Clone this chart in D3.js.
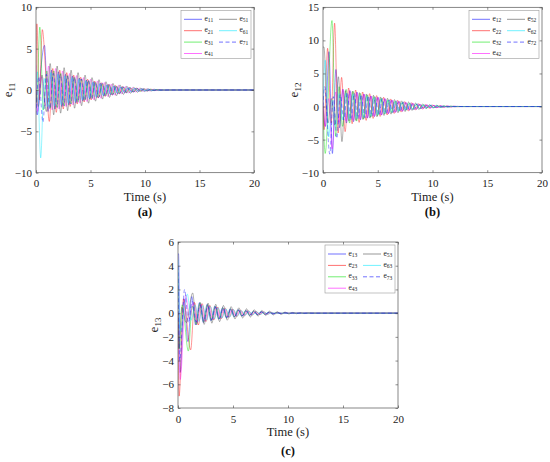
<!DOCTYPE html>
<html>
<head>
<meta charset="utf-8">
<script src="https://cdn.jsdelivr.net/npm/d3@7"></script>
<style>
  body { margin: 0; background: #fff; }
  svg { display: block; }
</style>
</head>
<body>
<div id="chart"></div>
<script>
// #region Data
// each series: a few early points [t, v], then ripple extrema read every half period from `start`
const xTicks = [0, 5, 10, 15, 20];
const yTicksA = [-10, -5, 0, 5, 10];
const yTicksB = [-10, -5, 0, 5, 10, 15];
const yTicksC = [-8, -6, -4, -2, 0, 2, 4, 6];
const subsA = ["11", "21", "31", "41", "51", "61", "71"];
const subsB = ["12", "22", "32", "42", "52", "62", "72"];
const subsC = ["13", "23", "33", "43", "53", "63", "73"];
const halfA = 0.32, halfB = 0.32, halfC = 0.35;

// panel (a)
const headA = [
  [[0, 0], [0.12, -3.0], [0.45, 2.6], [0.78, 5.4]],
  [[0, 0], [0.08, 8.0], [0.3, -1.2], [0.58, 7.3], [0.9, 2.0]],
  [[0, 0], [0.06, -1.5], [0.35, 7.6], [0.68, -2.4], [1.0, 2.3]],
  [[0, 3.0], [0.15, -2.6], [0.5, 1.6], [0.85, -1.9]],
  [[0, 0], [0.2, -2.0], [0.55, 1.8], [0.95, -2.6]],
  [[0, 0], [0.12, 2.2], [0.43, -8.2], [0.75, 1.4]],
  [[0, -3.0], [0.25, 1.6], [0.64, -3.9], [0.95, 1.9]]
];
const startA = [1.1, 1.22, 1.32, 1.16, 1.3, 1.05, 1.27];
const tailA = [
  [-2.6, 2.4, -2.3, 2.2, -2.0, 1.9, -1.8, 1.7, -1.55, 1.45, -1.3, 1.2, -1.1, 1.0, -0.9, 0.82, -0.72, 0.65, -0.58, 0.5, -0.44, 0.38, -0.33, 0.28, -0.24, 0.2, -0.17, 0.14, -0.11, 0.09, -0.07, 0.05, -0.03],
  [-3.8, 2.6, -2.7, 2.4, -2.3, 2.1, -2.0, 1.8, -1.7, 1.55, -1.45, 1.3, -1.2, 1.08, -0.98, 0.88, -0.78, 0.7, -0.62, 0.54, -0.47, 0.41, -0.35, 0.3, -0.26, 0.22, -0.18, 0.15, -0.12, 0.1, -0.08, 0.06, -0.04],
  [-2.2, 2.3, -2.1, 2.0, -1.9, 1.75, -1.65, 1.5, -1.4, 1.3, -1.2, 1.1, -1.0, 0.9, -0.82, 0.74, -0.66, 0.58, -0.52, 0.45, -0.4, 0.34, -0.3, 0.25, -0.21, 0.18, -0.15, 0.12, -0.1, 0.08, -0.06, 0.04, -0.03],
  [2.9, -2.4, 2.6, -2.3, 2.3, -2.0, 2.0, -1.8, 1.75, -1.6, 1.5, -1.4, 1.3, -1.2, 1.1, -1.0, 0.9, -0.8, 0.72, -0.64, 0.56, -0.48, 0.42, -0.36, 0.3, -0.25, 0.21, -0.17, 0.14, -0.11, 0.09, -0.07, 0.05, -0.03],
  [3.2, -3.0, 2.9, -2.8, 2.7, -2.5, 2.4, -2.2, 2.1, -1.9, 1.8, -1.6, 1.5, -1.35, 1.25, -1.1, 1.0, -0.9, 0.8, -0.7, 0.62, -0.54, 0.46, -0.4, 0.34, -0.28, 0.23, -0.19, 0.15, -0.12, 0.09, -0.07, 0.05, -0.03],
  [-2.0, 2.1, -1.9, 1.9, -1.8, 1.7, -1.6, 1.5, -1.4, 1.3, -1.2, 1.1, -1.0, 0.92, -0.84, 0.76, -0.68, 0.6, -0.53, 0.46, -0.4, 0.35, -0.3, 0.26, -0.22, 0.18, -0.15, 0.12, -0.1, 0.08, -0.06, 0.04, -0.03],
  [-2.3, 2.0, -2.1, 1.9, -1.9, 1.7, -1.7, 1.55, -1.5, 1.35, -1.3, 1.2, -1.1, 1.0, -0.92, 0.84, -0.75, 0.67, -0.6, 0.52, -0.45, 0.4, -0.34, 0.29, -0.25, 0.21, -0.17, 0.14, -0.11, 0.09, -0.07, 0.05, -0.03]
];

// panel (b)
const headB = [
  [[0, 0]],
  [[0, 0]],
  [[0, 0], [0.2, -7.1], [0.82, 13.0]],
  [[0, 2.0]],
  [[0, 9.0], [0.08, 9.0]],
  [[0, 0]],
  [[0, 0], [0.15, 3.0]]
];
const startB = [0.22, 0.1, 1.15, 0.2, 0.45, 0.2, 0.62];
const tailB = [
  [-3.0, 8.3, -7.1, 5.6, -3.2, 2.6, -2.5, 2.4, -2.3, 2.2, -2.0, 1.9, -1.75, 1.6, -1.5, 1.4, -1.28, 1.18, -1.06, 0.96, -0.86, 0.77, -0.68, 0.6, -0.52, 0.45, -0.39, 0.33, -0.28, 0.24, -0.2, 0.16, -0.13, 0.1, -0.08, 0.06, -0.04, 0.03],
  [-3.5, 8.8, -2.5, 12.6, -4.0, 4.4, -3.8, 2.8, -2.6, 2.5, -2.4, 2.2, -2.1, 1.95, -1.8, 1.65, -1.5, 1.4, -1.28, 1.15, -1.05, 0.94, -0.84, 0.75, -0.66, 0.58, -0.5, 0.43, -0.37, 0.31, -0.26, 0.22, -0.18, 0.14, -0.11, 0.09, -0.07, 0.05, -0.03],
  [-4.5, 3.0, -3.0, 2.6, -2.5, 2.3, -2.2, 2.0, -1.9, 1.75, -1.6, 1.5, -1.38, 1.25, -1.13, 1.02, -0.92, 0.82, -0.73, 0.64, -0.56, 0.49, -0.42, 0.36, -0.31, 0.26, -0.22, 0.18, -0.15, 0.12, -0.09, 0.07, -0.05, 0.03],
  [-3.0, 1.2, -6.4, 2.2, -2.4, 2.6, -2.2, 2.4, -2.1, 2.1, -1.9, 1.9, -1.7, 1.6, -1.5, 1.4, -1.3, 1.2, -1.1, 1.0, -0.9, 0.8, -0.72, 0.64, -0.56, 0.49, -0.42, 0.36, -0.31, 0.26, -0.22, 0.18, -0.15, 0.12, -0.09, 0.07, -0.05, 0.03],
  [-2.5, 1.2, -2.8, 4.5, -5.3, 2.4, -2.2, 2.3, -2.1, 2.1, -1.95, 1.9, -1.75, 1.7, -1.55, 1.45, -1.35, 1.25, -1.15, 1.05, -0.95, 0.86, -0.77, 0.68, -0.6, 0.52, -0.45, 0.39, -0.33, 0.28, -0.23, 0.19, -0.15, 0.12, -0.09, 0.07, -0.05, 0.03],
  [7.0, -4.6, 1.0, -3.0, 2.0, -2.0, 2.0, -1.9, 1.9, -1.8, 1.7, -1.6, 1.55, -1.45, 1.35, -1.25, 1.15, -1.05, 0.96, -0.87, 0.78, -0.7, 0.62, -0.55, 0.48, -0.42, 0.36, -0.31, 0.26, -0.22, 0.18, -0.15, 0.12, -0.09, 0.07, -0.05, 0.03],
  [-7.2, 1.5, -4.8, 1.8, -2.0, 2.1, -2.0, 2.0, -1.85, 1.8, -1.7, 1.6, -1.5, 1.4, -1.3, 1.2, -1.1, 1.0, -0.92, 0.84, -0.75, 0.67, -0.6, 0.52, -0.45, 0.39, -0.33, 0.28, -0.24, 0.2, -0.16, 0.13, -0.1, 0.08, -0.06, 0.04, -0.03]
];

// panel (c)
const headC = [
  [[0, 5.0], [0.05, 5.0]],
  [[0, 0], [0.1, -7.0], [0.5, 1.2]],
  [[0, 0], [0.12, -3.0], [0.38, 0.7]],
  [[0, 0], [0.2, -5.6]],
  [[0, 3.0], [0.07, -3.0], [0.35, 0.5], [0.75, -0.8]],
  [[0, 4.5], [0.2, -1.5]],
  [[0, 4.0], [0.15, -4.0]]
];
const startC = [0.2, 1.15, 0.94, 0.7, 1.33, 0.85, 0.6];
const tailC = [
  [-5.0, 1.2, -2.4, 1.4, -1.0, 0.9, -0.8, 0.75, -0.65, 0.6, -0.52, 0.48, -0.42, 0.38, -0.33, 0.3, -0.26, 0.23, -0.2, 0.17, -0.15, 0.13, -0.11, 0.09, -0.08, 0.06, -0.05, 0.04, -0.03, 0.02],
  [-3.1, 0.9, -1.0, 0.8, -0.7, 0.65, -0.58, 0.52, -0.46, 0.41, -0.36, 0.32, -0.28, 0.25, -0.22, 0.19, -0.16, 0.14, -0.12, 0.1, -0.08, 0.07, -0.05, 0.04, -0.03, 0.02],
  [-3.2, 0.6, -0.9, 0.85, -0.75, 0.7, -0.6, 0.55, -0.5, 0.44, -0.39, 0.35, -0.3, 0.27, -0.24, 0.21, -0.18, 0.15, -0.13, 0.11, -0.09, 0.08, -0.06, 0.05, -0.04, 0.03, -0.02],
  [1.5, -0.5, 0.9, -0.8, 0.75, -0.7, 0.62, -0.56, 0.5, -0.45, 0.4, -0.35, 0.31, -0.27, 0.24, -0.21, 0.18, -0.15, 0.13, -0.11, 0.09, -0.08, 0.06, -0.05, 0.04, -0.03, 0.02],
  [1.7, -1.0, 0.9, -0.95, 0.85, -0.85, 0.75, -0.72, 0.65, -0.6, 0.55, -0.5, 0.45, -0.41, 0.37, -0.33, 0.29, -0.26, 0.23, -0.2, 0.17, -0.15, 0.13, -0.11, 0.09, -0.07, 0.06, -0.05, 0.04, -0.03, 0.02],
  [1.6, -0.6, 0.7, -0.7, 0.65, -0.6, 0.55, -0.5, 0.46, -0.42, 0.37, -0.33, 0.3, -0.26, 0.23, -0.2, 0.18, -0.15, 0.13, -0.11, 0.09, -0.08, 0.06, -0.05, 0.04, -0.03, 0.02],
  [2.0, -0.8, 1.0, -0.75, 0.7, -0.65, 0.6, -0.55, 0.5, -0.45, 0.4, -0.36, 0.32, -0.28, 0.25, -0.22, 0.19, -0.16, 0.14, -0.12, 0.1, -0.08, 0.07, -0.05, 0.04, -0.03, 0.02]
];
// #endregion

// #region Styles & layout
const colors = ["#0000ff", "#ff0000", "#00e000", "#ff00ff", "#444444", "#00e8ff", "#0000ff"];
const dashes = [null, null, null, null, null, null, "4,2.5"];
const serif = "'Liberation Serif', Tinos, 'Times New Roman', Times, 'DejaVu Serif', serif";

const panels = [
  { tag: "(a)", left: 36, right: 254, top: 7.3, bottom: 172.7, yDomain: [-10, 10], yTicks: yTicksA,
    subs: subsA, head: headA, start: startA, tail: tailA, half: halfA, ylabX: 12, tickY: 187, timeY: 201, tagY: 215.5 },
  { tag: "(b)", left: 323, right: 542, top: 7.3, bottom: 172.7, yDomain: [-10, 15], yTicks: yTicksB,
    subs: subsB, head: headB, start: startB, tail: tailB, half: halfB, ylabX: 298, tickY: 187, timeY: 201, tagY: 215.5 },
  { tag: "(c)", left: 178, right: 398, top: 242, bottom: 408, yDomain: [-8, 6], yTicks: yTicksC,
    subs: subsC, head: headC, start: startC, tail: tailC, half: halfC, ylabX: 158, tickY: 423, timeY: 436, tagY: 455 }
];
// #endregion

const svg = d3.select("#chart").append("svg")
  .attr("width", 550)
  .attr("height", 462)
  .style("font-family", serif);

function buildPoints(head, start, tail, half) {
  const pts = head.map(d => [d[0], d[1]]);
  tail.forEach((v, i) => pts.push([start + i * half, v]));
  pts.push([start + tail.length * half, 0], [20, 0]);
  return pts;
}

panels.forEach((p, pi) => {
  const x = d3.scaleLinear().domain([0, 20]).range([p.left, p.right]);
  const y = d3.scaleLinear().domain(p.yDomain).range([p.bottom, p.top]);
  const g = svg.append("g");

  const clipId = "clip" + pi;
  g.append("clipPath").attr("id", clipId)
    .append("rect")
    .attr("x", p.left).attr("y", p.top)
    .attr("width", p.right - p.left).attr("height", p.bottom - p.top);

  const line = d3.line()
    .x(d => x(d[0]))
    .y(d => y(d[1]))
    .curve(d3.curveMonotoneX);

  const lines = g.append("g").attr("clip-path", `url(#${clipId})`);
  p.subs.forEach((s, i) => {
    lines.append("path")
      .datum(buildPoints(p.head[i], p.start[i], p.tail[i], p.half))
      .attr("fill", "none")
      .attr("stroke", colors[i])
      .attr("stroke-width", 0.6)
      .attr("stroke-opacity", 0.7)
      .attr("stroke-dasharray", dashes[i])
      .attr("d", line);
  });

  // axes, ticks pointing inward like MATLAB
  const styleAxis = sel => {
    sel.attr("font-family", null).attr("font-size", null);
    sel.select(".domain").remove();
    sel.selectAll(".tick line").attr("stroke", "#444").attr("stroke-width", 0.6);
    sel.selectAll("text").attr("fill", "#222").style("font-size", "11px").style("font-family", serif);
  };
  g.append("g").attr("transform", `translate(0,${p.bottom})`)
    .call(d3.axisBottom(x).tickValues(xTicks).tickSizeInner(-2.5).tickSizeOuter(0).tickPadding(0))
    .call(styleAxis)
    .selectAll(".tick text").attr("dy", null).attr("y", p.tickY - p.bottom);
  g.append("g").attr("transform", `translate(0,${p.top})`)
    .call(d3.axisTop(x).tickValues(xTicks).tickSizeInner(-2.5).tickSizeOuter(0).tickFormat(""))
    .call(styleAxis);
  g.append("g").attr("transform", `translate(${p.left},0)`)
    .call(d3.axisLeft(y).tickValues(p.yTicks).tickSizeInner(-2.5).tickSizeOuter(0).tickPadding(4))
    .call(styleAxis);
  g.append("g").attr("transform", `translate(${p.right},0)`)
    .call(d3.axisRight(y).tickValues(p.yTicks).tickSizeInner(-2.5).tickSizeOuter(0).tickFormat(""))
    .call(styleAxis);

  g.append("rect")
    .attr("x", p.left).attr("y", p.top)
    .attr("width", p.right - p.left).attr("height", p.bottom - p.top)
    .attr("fill", "none").attr("stroke", "#555").attr("stroke-width", 0.7);

  const cx = (p.left + p.right) / 2;
  g.append("text")
    .attr("x", cx).attr("y", p.timeY)
    .attr("text-anchor", "middle")
    .style("font-family", serif)
    .style("font-size", "12.5px").attr("fill", "#222")
    .text("Time (s)");

  g.append("text")
    .attr("x", cx).attr("y", p.tagY)
    .attr("text-anchor", "middle")
    .style("font-family", serif)
    .style("font-size", "12.5px").style("font-weight", "bold").attr("fill", "#111")
    .text(p.tag);

  // y label e_ij
  const yl = g.append("text")
    .attr("transform", `translate(${p.ylabX},${(p.top + p.bottom) / 2}) rotate(-90)`)
    .attr("text-anchor", "middle")
    .style("font-family", serif)
    .attr("fill", "#222")
    .style("font-size", "13px");
  yl.append("tspan").text("e");
  yl.append("tspan").attr("dy", 3).style("font-size", "9px").text(p.subs[0]);

  // legend
  const lw = 70, lh = 48;
  const lx = p.right - lw - 3, ly = p.top + 3;
  const leg = g.append("g").attr("transform", `translate(${lx},${ly})`);
  leg.append("rect").attr("width", lw).attr("height", lh)
    .attr("fill", "#fff").attr("stroke", "#999").attr("stroke-width", 0.6);
  p.subs.forEach((s, i) => {
    const col = i < 4 ? 0 : 1;
    const row = i < 4 ? i : i - 4;
    const ox = col * 35, oy = 9 + row * 11.4;
    leg.append("line")
      .attr("x1", ox + 3).attr("x2", ox + 21)
      .attr("y1", oy).attr("y2", oy)
      .attr("stroke", colors[i]).attr("stroke-width", 0.8)
      .attr("stroke-opacity", 0.7)
      .attr("stroke-dasharray", dashes[i]);
    const t = leg.append("text")
      .attr("x", ox + 23.5).attr("y", oy + 1.5)
      .style("font-family", serif)
      .attr("fill", "#222").style("font-size", "7.5px");
    t.append("tspan").text("e");
    t.append("tspan").attr("dy", 1.5).style("font-size", "5.5px").text(s);
  });
});
</script>
</body>
</html>
